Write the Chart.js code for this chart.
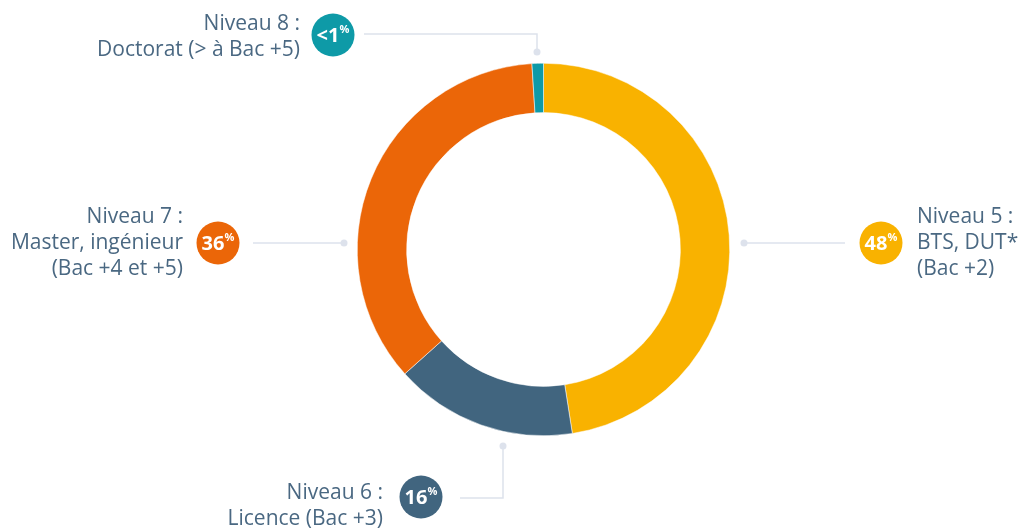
<!DOCTYPE html>
<html lang="fr">
<head>
<meta charset="UTF-8">
<title>Niveaux de diplôme</title>
<script src="https://cdn.jsdelivr.net/npm/chart.js"></script>
<style>
    html, body { margin: 0; padding: 0; background: #fff; }
    .wrap { width: 1022px; height: 529px; position: relative; }
</style>
</head>
<body>
<div class="wrap"><canvas id="donut"></canvas></div>
<script>
    // data
    const categories = ["Niveau 5", "Niveau 6", "Niveau 7", "Niveau 8"];
    const values = [48, 16, 36, 1];
    const badgeLabels = ["48", "16", "36", "<1"];
    const labelLines = [
        ["Niveau 5 :", "BTS, DUT*", "(Bac +2)"],
        ["Niveau 6 :", "Licence (Bac +3)"],
        ["Niveau 7 :", "Master, ingénieur", "(Bac +4 et +5)"],
        ["Niveau 8 :", "Doctorat (> à Bac +5)"]
    ];
    const colors = ["#f9b200", "#41657f", "#eb6608", "#0e9aa7"];

    // where each callout sits (layout only)
    const callouts = [
        { badge: [881, 243], text: [917, 217], align: "left", path: [[845, 243], [744, 243]] },
        { badge: [421, 497], text: [383, 493], align: "right", path: [[460, 498], [503, 498], [503, 446]] },
        { badge: [218, 243], text: [183, 217], align: "right", path: [[253, 243], [344, 243]] },
        { badge: [333, 35], text: [300, 24], align: "right", path: [[364, 34], [537, 34], [537, 52]] }
    ];

    const textColor = "#4a6882";
    const lineColor = "#dde2ec";

    const calloutPlugin = {
        id: "callouts",
        afterDraw(chart) {
            const ctx = chart.ctx;
            ctx.save();
            callouts.forEach((c, i) => {
                // connector
                ctx.strokeStyle = lineColor;
                ctx.lineWidth = 1.5;
                ctx.beginPath();
                c.path.forEach((p, k) => k ? ctx.lineTo(p[0], p[1]) : ctx.moveTo(p[0], p[1]));
                ctx.stroke();
                const end = c.path[c.path.length - 1];
                ctx.fillStyle = lineColor;
                ctx.beginPath();
                ctx.arc(end[0], end[1], 3.5, 0, Math.PI * 2);
                ctx.fill();

                // badge
                ctx.fillStyle = colors[i];
                ctx.beginPath();
                ctx.arc(c.badge[0], c.badge[1], 21.5, 0, Math.PI * 2);
                ctx.fill();
                ctx.fillStyle = "#fff";
                ctx.textBaseline = "middle";
                const num = badgeLabels[i];
                ctx.font = "bold 20px 'Open Sans'";
                const w1 = ctx.measureText(num).width;
                ctx.font = "bold 11px 'Open Sans'";
                const w2 = ctx.measureText("%").width;
                const x0 = c.badge[0] - (w1 + w2) / 2;
                ctx.textAlign = "left";
                ctx.font = "bold 20px 'Open Sans'";
                ctx.fillText(num, x0, c.badge[1] + 1);
                ctx.font = "bold 11px 'Open Sans'";
                ctx.fillText("%", x0 + w1, c.badge[1] - 5);

                // label text
                ctx.fillStyle = textColor;
                ctx.font = "21px 'Open Sans'";
                ctx.textAlign = c.align;
                labelLines[i].forEach((line, k) => {
                    ctx.fillText(line, c.text[0], c.text[1] + k * 26);
                });
            });
            ctx.restore();
        }
    };

    new Chart(document.getElementById("donut"), {
        type: "doughnut",
        data: {
            labels: categories,
            datasets: [{
                data: values,
                backgroundColor: colors,
                borderColor: "#ffffff",
                borderWidth: 0.5
            }]
        },
        options: {
            responsive: true,
            maintainAspectRatio: false,
            animation: false,
            cutout: "73.5%",
            layout: { padding: { left: 357, right: 292, top: 63, bottom: 93 } },
            plugins: {
                legend: { display: false },
                tooltip: { enabled: false }
            }
        },
        plugins: [calloutPlugin]
    });
</script>
</body>
</html>
